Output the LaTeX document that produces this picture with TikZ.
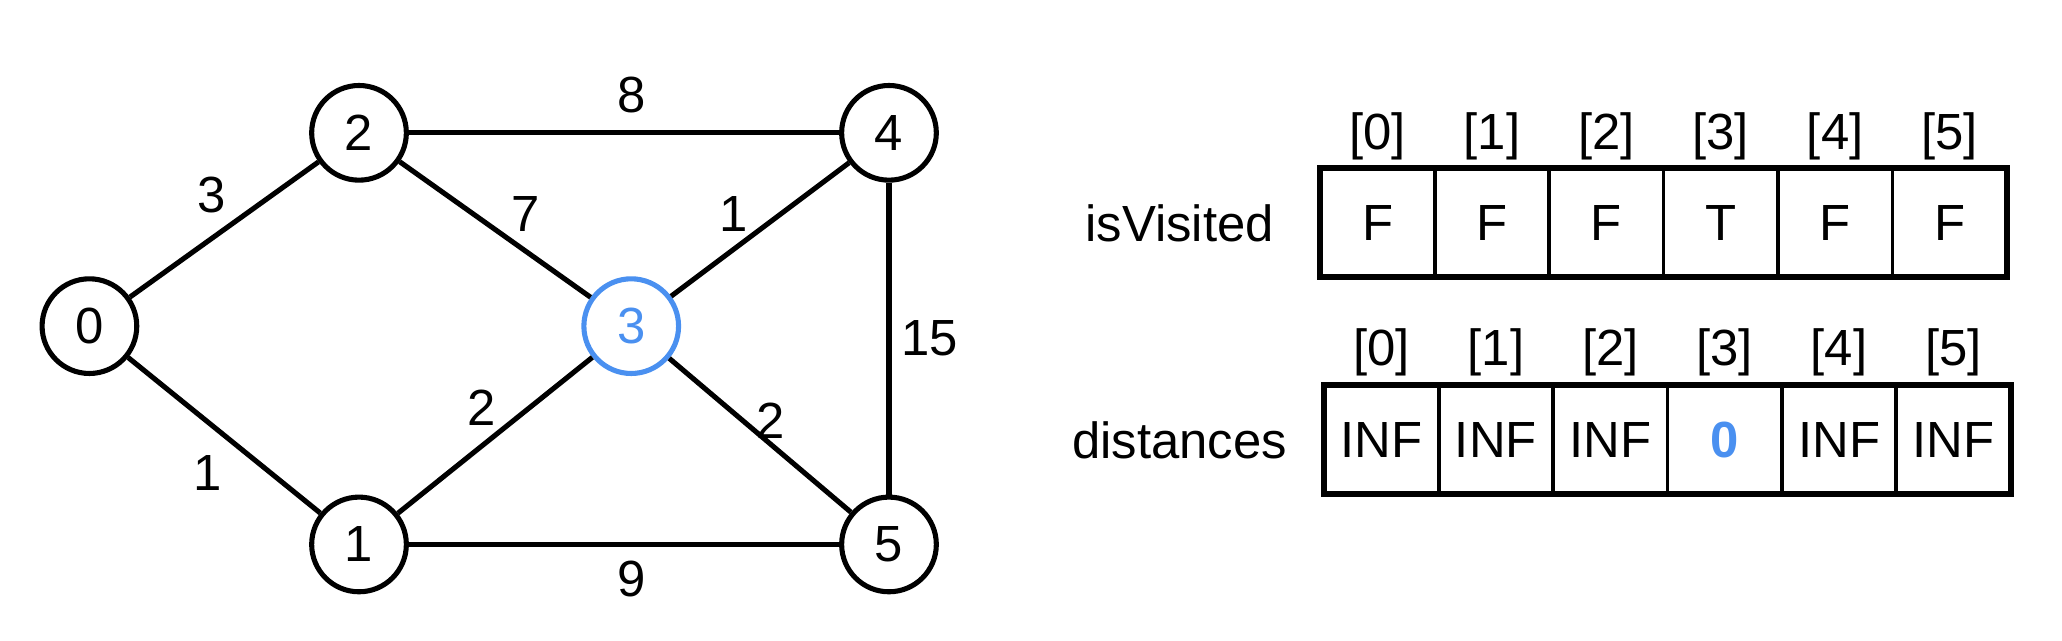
\documentclass[tikz,border=0pt]{standalone}
\usepackage{fontspec}
\setmainfont{Liberation Sans}
\usetikzlibrary{positioning}
\definecolor{visblue}{RGB}{74,144,240}
\tikzset{
  every node/.style={font=\fontsize{11}{13}\selectfont},
  vertex/.style={circle,draw,line width=1.1pt,minimum size=0.72cm,inner sep=0pt},
  current/.style={vertex,draw=visblue,text=visblue},
  edge/.style={line width=1.1pt},
  cell/.style={draw,line width=0.8pt,minimum width=0.87cm,minimum height=0.83cm,inner sep=0pt,outer sep=0pt},
  weight/.style={inner sep=0pt}
}

\begin{document}
\begin{tikzpicture}
  \useasboundingbox (0,0) rectangle (15.68,4.87);
  % graph
  \node[vertex] (n0) at (0.68,2.39) {0};
  \node[vertex] (n2) at (2.73,3.86) {2};
  \node[current] (n3) at (4.80,2.39) {3};
  \node[vertex] (n4) at (6.76,3.86) {4};
  \node[vertex] (n1) at (2.73,0.73) {1};
  \node[vertex] (n5) at (6.76,0.73) {5};
  \draw[edge] (n0) -- node[weight,xshift=-0.095cm,yshift=0.265cm] {3} (n2);
  \draw[edge] (n2) -- node[weight,xshift=0.055cm,yshift=0.29cm] {8} (n4);
  \draw[edge] (n2) -- node[weight,xshift=0.235cm,yshift=0.115cm] {7} (n3);
  \draw[edge] (n3) -- node[weight,xshift=-0.2cm,yshift=0.115cm] {1} (n4);
  \draw[edge] (n4) -- node[weight,xshift=0.31cm] {15} (n5);
  \draw[edge] (n1) -- node[weight,xshift=-0.105cm,yshift=0.21cm] {2} (n3);
  \draw[edge] (n3) -- node[weight,xshift=0.08cm,yshift=0.11cm] {2} (n5);
  \draw[edge] (n0) -- node[weight,xshift=-0.125cm,yshift=-0.29cm] {1} (n1);
  \draw[edge] (n1) -- node[weight,xshift=0.055cm,yshift=-0.26cm] {9} (n5);
  % arrays
  \node[cell] (v0) at (10.475,3.175) {F};
  \node[cell] (d0) at (10.505,1.525) {INF};
  \foreach \val [count=\i from 1, evaluate=\i as \j using int(\i-1)] in {F,F,T,F,F}
    \node[cell,right=0pt of v\j] (v\i) {\val};
  \foreach \val [count=\i from 1, evaluate=\i as \j using int(\i-1)] in {INF,INF,\textcolor{visblue}{\textbf{0}},INF,INF}
    \node[cell,right=0pt of d\j] (d\i) {\val};
  \draw[line width=1.3pt] (v0.north west) rectangle (v5.south east);
  \draw[line width=1.3pt] (d0.north west) rectangle (d5.south east);
  \foreach \i in {0,...,5} {
    \node (vi\i) at ([yshift=0.24cm]v\i.north) {[\i]};
    \node (di\i) at ([yshift=0.25cm]d\i.north) {[\i]};
  }
  \node[left=0.23cm of v0] (visited) {isVisited};
  \node[left=0.16cm of d0] (dist) {distances};
\end{tikzpicture}
\end{document}
